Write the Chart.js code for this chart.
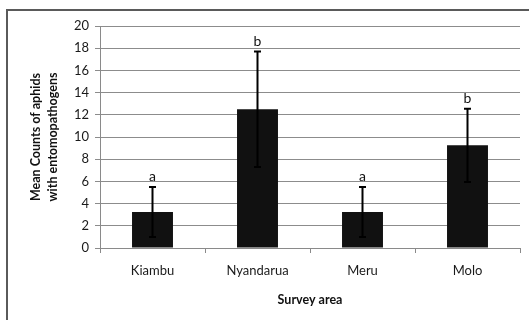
<!DOCTYPE html>
<html>
<head>
<meta charset="utf-8">
<script src="https://cdn.jsdelivr.net/npm/chart.js@4"></script>
<style>
  html, body { margin: 0; padding: 0; background: #fff; }
  #wrap { width: 529px; height: 320px; }
</style>
</head>
<body>
<div id="wrap"><canvas id="c" width="529" height="320"></canvas></div>
<script>
// Survey areas and mean aphid counts with entomopathogens
const areas = ['Kiambu', 'Nyandarua', 'Meru', 'Molo'];
const meanCounts = [3.25, 12.5, 3.25, 9.25];
const errorSize = [2.25, 5.2, 2.25, 3.3];
const groupLetters = ['a', 'b', 'a', 'b'];
const yTicks = [0, 2, 4, 6, 8, 10, 12, 14, 16, 18, 20];

const FONT = 'Lato, "Open Sans", sans-serif';

// Frame around the figure, error bars with caps, significance letters, axis titles
const decorations = {
  id: 'decorations',
  beforeDraw(chart) {
    const ctx = chart.ctx;
    ctx.save();
    ctx.fillStyle = '#fff';
    ctx.fillRect(0, 0, chart.width, chart.height);
    ctx.strokeStyle = '#5a5a5a';
    ctx.lineWidth = 2;
    ctx.beginPath();
    ctx.moveTo(7, chart.height + 2);
    ctx.lineTo(7, 10);
    ctx.lineTo(chart.width + 2, 10);
    ctx.stroke();
    ctx.restore();
  },
  afterDatasetsDraw(chart) {
    const ctx = chart.ctx;
    const xs = chart.scales.x, ys = chart.scales.y;
    ctx.save();
    ctx.strokeStyle = '#000';
    ctx.lineWidth = 2;
    ctx.fillStyle = '#111';
    ctx.font = '14px ' + FONT;
    ctx.textAlign = 'center';
    ctx.textBaseline = 'bottom';
    meanCounts.forEach((v, i) => {
      const x = xs.getPixelForValue(i);
      const yt = ys.getPixelForValue(v + errorSize[i]);
      const yb = ys.getPixelForValue(v - errorSize[i]);
      ctx.beginPath();
      ctx.moveTo(x, yt); ctx.lineTo(x, yb);
      ctx.moveTo(x - 3.5, yt); ctx.lineTo(x + 3.5, yt);
      ctx.moveTo(x - 3.5, yb); ctx.lineTo(x + 3.5, yb);
      ctx.stroke();
      ctx.fillText(groupLetters[i], x, yt - 3);
    });
    // axis titles
    ctx.font = 'bold 12.5px ' + FONT;
    ctx.textBaseline = 'middle';
    ctx.fillText('Survey area', (chart.chartArea.left + chart.chartArea.right) / 2, 300);
    const cy = (chart.chartArea.top + chart.chartArea.bottom) / 2;
    ctx.translate(44, cy);
    ctx.rotate(-Math.PI / 2);
    ctx.fillText('Mean Counts of aphids', 0, -8.5);
    ctx.fillText('with entomopathogens', 0, 8.5);
    ctx.restore();
  }
};

new Chart(document.getElementById('c'), {
  type: 'bar',
  data: {
    labels: areas,
    datasets: [{
      data: meanCounts,
      backgroundColor: '#111',
      borderWidth: 0,
      categoryPercentage: 1,
      barPercentage: 0.39
    }]
  },
  options: {
    responsive: false,
    animation: false,
    events: [],
    layout: { padding: { top: 26, right: 9, left: 0, bottom: 0 } },
    plugins: { legend: { display: false }, tooltip: { enabled: false } },
    scales: {
      x: {
        afterFit(s) { s.height = 72; },
        border: { color: '#8a8a8a', width: 1 },
        grid: { offset: true, drawOnChartArea: false, color: '#8a8a8a', tickLength: 5 },
        ticks: { color: '#1a1a1a', font: { family: FONT, size: 13 }, padding: 10 }
      },
      y: {
        min: 0, max: 20,
        afterFit(s) { s.width = 100; },
        afterBuildTicks(s) { s.ticks = yTicks.map(v => ({ value: v })); },
        border: { color: '#8a8a8a', width: 1 },
        grid: { color: '#8c8c8c', lineWidth: 1, tickLength: 5 },
        ticks: { color: '#1a1a1a', font: { family: FONT, size: 13 }, padding: 6 }
      }
    }
  },
  plugins: [decorations]
});
</script>
</body>
</html>
